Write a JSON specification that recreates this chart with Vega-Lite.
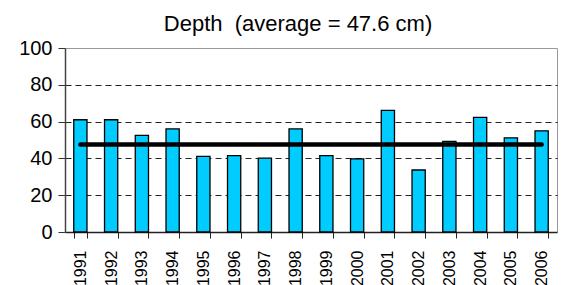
{
  "$schema": "https://vega.github.io/schema/vega-lite/v6.json",
  "autosize": {"type": "none"},
  "width": 492,
  "height": 184,
  "padding": {"left": 65, "top": 48, "right": 25, "bottom": 53},
  "background": "white",
  "title": {
    "text": "Depth \u00a0(average = 47.6 cm)",
    "font": "Liberation Sans",
    "fontSize": 22,
    "fontWeight": "normal",
    "color": "black",
    "anchor": "middle",
    "offset": 9,
    "dy": 7,
    "dx": -13
  },
  "config": {
    "view": {"stroke": "#999999", "strokeWidth": 1},
    "font": "Liberation Sans",
    "axis": {"labelOverlap": false, "labelFlush": false},
    "axisY": {
      "title": null,
      "values": [0, 20, 40, 60, 80, 100],
      "labelFontSize": 20,
      "labelColor": "black",
      "labelPadding": 6,
      "labelOverlap": false,
      "labelFlush": false,
      "tickSize": 7,
      "tickColor": "#333333",
      "domainColor": "#444444",
      "domainWidth": 1.5,
      "gridColor": "#222222",
      "gridDash": [6, 4],
      "gridWidth": 1
    }
  },
  "data": {
    "values": [
      {"year": "1991", "depth": 61.0, "avg": 47.6},
      {"year": "1992", "depth": 61.0, "avg": 47.6},
      {"year": "1993", "depth": 52.5, "avg": 47.6},
      {"year": "1994", "depth": 56.0, "avg": 47.6},
      {"year": "1995", "depth": 41.1, "avg": 47.6},
      {"year": "1996", "depth": 41.5, "avg": 47.6},
      {"year": "1997", "depth": 40.2, "avg": 47.6},
      {"year": "1998", "depth": 56.0, "avg": 47.6},
      {"year": "1999", "depth": 41.5, "avg": 47.6},
      {"year": "2000", "depth": 39.7, "avg": 47.6},
      {"year": "2001", "depth": 66.1, "avg": 47.6},
      {"year": "2002", "depth": 33.7, "avg": 47.6},
      {"year": "2003", "depth": 49.2, "avg": 47.6},
      {"year": "2004", "depth": 62.3, "avg": 47.6},
      {"year": "2005", "depth": 51.2, "avg": 47.6},
      {"year": "2006", "depth": 55.0, "avg": 47.6}
    ]
  },
  "encoding": {
    "x": {
      "field": "year",
      "type": "nominal",
      "sort": null,
      "scale": {"paddingInner": 0.57, "paddingOuter": 0.285},
      "axis": {
        "title": null,
        "labelAngle": -90,
        "labelAlign": "right",
        "labelBaseline": "middle",
        "labelFontSize": 16,
        "labelColor": "black",
        "labelPadding": 12,
        "labelOverlap": false,
        "tickBand": "extent",
        "tickSize": 6,
        "tickColor": "#222222",
        "domainColor": "#222222",
        "domainWidth": 1.5,
        "grid": false
      }
    }
  },
  "layer": [
    {
      "mark": {"type": "bar", "fill": "#00CCFF", "stroke": "black", "strokeWidth": 1.3},
      "encoding": {
        "y": {
          "field": "depth",
          "type": "quantitative",
          "scale": {"domain": [0, 100], "nice": false},
          "axis": {
            "labelOverlap": false,
            "gridOpacity": {"condition": {"test": "datum.value === 0 || datum.value === 100", "value": 0}, "value": 1}
          }
        }
      }
    },
    {
      "mark": {"type": "line", "color": "black", "strokeWidth": 4.5, "strokeCap": "round"},
      "encoding": {
        "y": {"field": "avg", "type": "quantitative", "axis": {"labelOverlap": false}}
      }
    }
  ]
}
